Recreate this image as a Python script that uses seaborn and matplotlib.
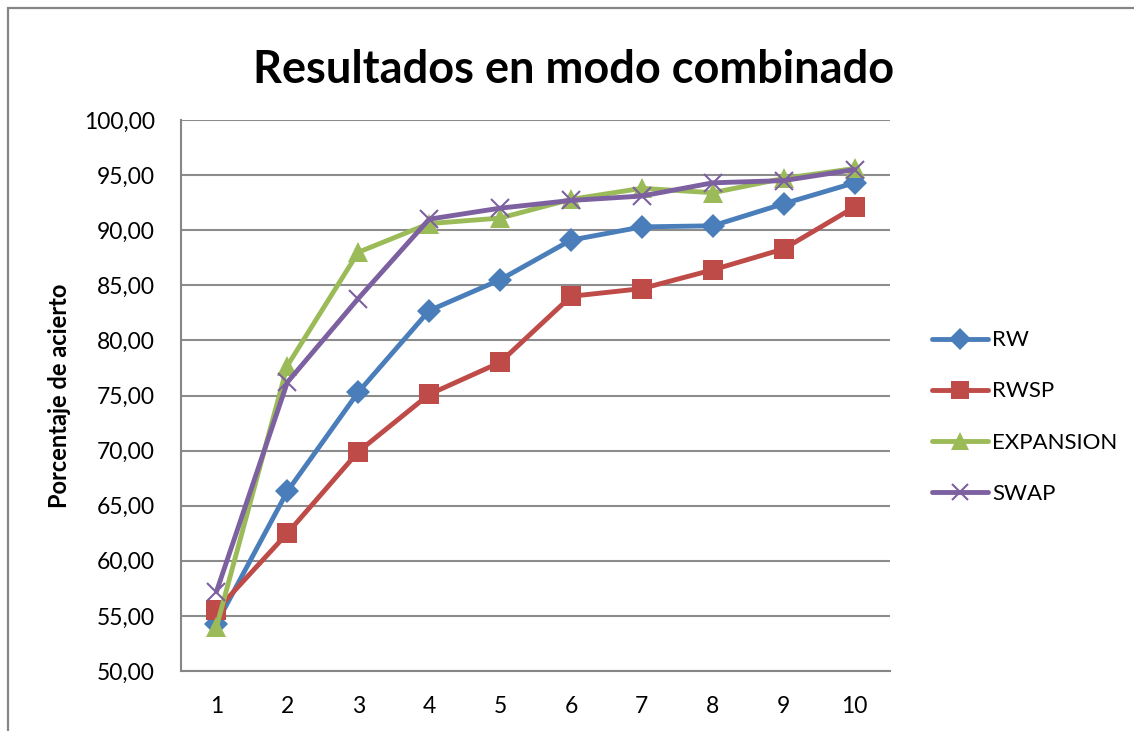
import matplotlib
matplotlib.use("Agg")
import matplotlib.pyplot as plt
import seaborn as sns
import pandas as pd
from matplotlib.patches import Rectangle
from matplotlib.lines import Line2D

categories = [1, 2, 3, 4, 5, 6, 7, 8, 9, 10]
rw = [54.3, 66.3, 75.3, 82.7, 85.5, 89.1, 90.3, 90.4, 92.4, 94.3]
rwsp = [55.5, 62.5, 69.9, 75.1, 78.0, 84.0, 84.7, 86.4, 88.3, 92.1]
expansion = [54.0, 77.7, 88.0, 90.6, 91.1, 92.8, 93.8, 93.4, 94.7, 95.6]
swap = [57.2, 76.2, 83.8, 91.0, 92.0, 92.7, 93.1, 94.3, 94.5, 95.5]
series_names = ["RW", "RWSP", "EXPANSION", "SWAP"]
y_ticks = [50, 55, 60, 65, 70, 75, 80, 85, 90, 95, 100]
y_tick_labels = ["50,00", "55,00", "60,00", "65,00", "70,00", "75,00",
                 "80,00", "85,00", "90,00", "95,00", "100,00"]
title = "Resultados en modo combinado"
ylabel = "Porcentaje de acierto"

colors = ["#4A7EBB", "#BE4B48", "#9BBB59", "#7D60A0"]
markers = ["D", "s", "^", "x"]
msizes = [12, 14, 14, 13]

sns.set_style("white")
plt.rcParams["font.family"] = ["Lato", "DejaVu Sans"]
plt.rcParams["text.color"] = "black"
plt.rcParams["xtick.color"] = "black"
plt.rcParams["ytick.color"] = "black"
plt.rcParams["axes.labelcolor"] = "black"

fig = plt.figure(figsize=(11.34, 7.31), dpi=100)
ax = fig.add_axes([181/1134, 1-671/731, (890-181)/1134, (671-120)/731])

fig.patches.append(Rectangle((8/1134, -0.1), 1.2, 1-8/731+0.1, transform=fig.transFigure,
                             fill=False, edgecolor="#868686", linewidth=1.6, zorder=0))

df = pd.DataFrame({"x": categories, "RW": rw, "RWSP": rwsp,
                   "EXPANSION": expansion, "SWAP": swap})
long = df.melt(id_vars="x", var_name="serie", value_name="y")

handles = []
for name, c, m, ms in zip(series_names, colors, markers, msizes):
    sub = long[long["serie"] == name]
    kw = dict(marker=m, markersize=ms, markeredgecolor=c, markerfacecolor=c)
    kw["markeredgewidth"] = 1.5 if m == "x" else 0
    sns.lineplot(data=sub, x="x", y="y", ax=ax, color=c, linewidth=3.5,
                 legend=False, zorder=3, **kw)
    handles.append(Line2D([], [], color=c, linewidth=3.5, marker=m,
                          markersize=ms*0.9, markerfacecolor=c, markeredgecolor=c,
                          markeredgewidth=kw["markeredgewidth"],
                          solid_capstyle="round"))

ax.set_xlim(0.5, 10.5)
ax.set_ylim(50, 100)
ax.set_yticks(y_ticks)
ax.set_yticklabels(y_tick_labels, fontsize=16.5)
ax.set_xticks(categories)
ax.set_xticklabels([str(c) for c in categories], fontsize=16.5)
ax.set_xticks([i + 0.5 for i in range(0, 11)], minor=True)
ax.tick_params(axis="x", which="major", length=0, pad=18)
ax.tick_params(axis="x", which="minor", length=8, width=1.5, color="#868686", direction="out")
ax.tick_params(axis="y", which="major", length=8, width=1.5, color="#868686",
               labelcolor="black", direction="out", pad=11)
ax.yaxis.grid(True, color="#8C8C8C", linewidth=1.5)
ax.xaxis.grid(False)
ax.set_axisbelow(True)
for s in ["top", "right"]:
    ax.spines[s].set_visible(False)
for s in ["left", "bottom"]:
    ax.spines[s].set_color("#868686")
    ax.spines[s].set_linewidth(1.5)
ax.set_xlabel("")
ax.set_ylabel(ylabel, fontsize=17, fontweight="bold", labelpad=9)

fig.text(574/1134, 1-83/731, title, fontsize=32.5, fontweight="bold",
         ha="center", va="baseline", color="black")

fig.legend(handles, series_names, loc="center left",
           bbox_to_anchor=(912/1134, 1-417/731), frameon=False, fontsize=16,
           handlelength=2.5, labelspacing=1.4, handletextpad=0.2)

fig.savefig("out.png", dpi=100)
